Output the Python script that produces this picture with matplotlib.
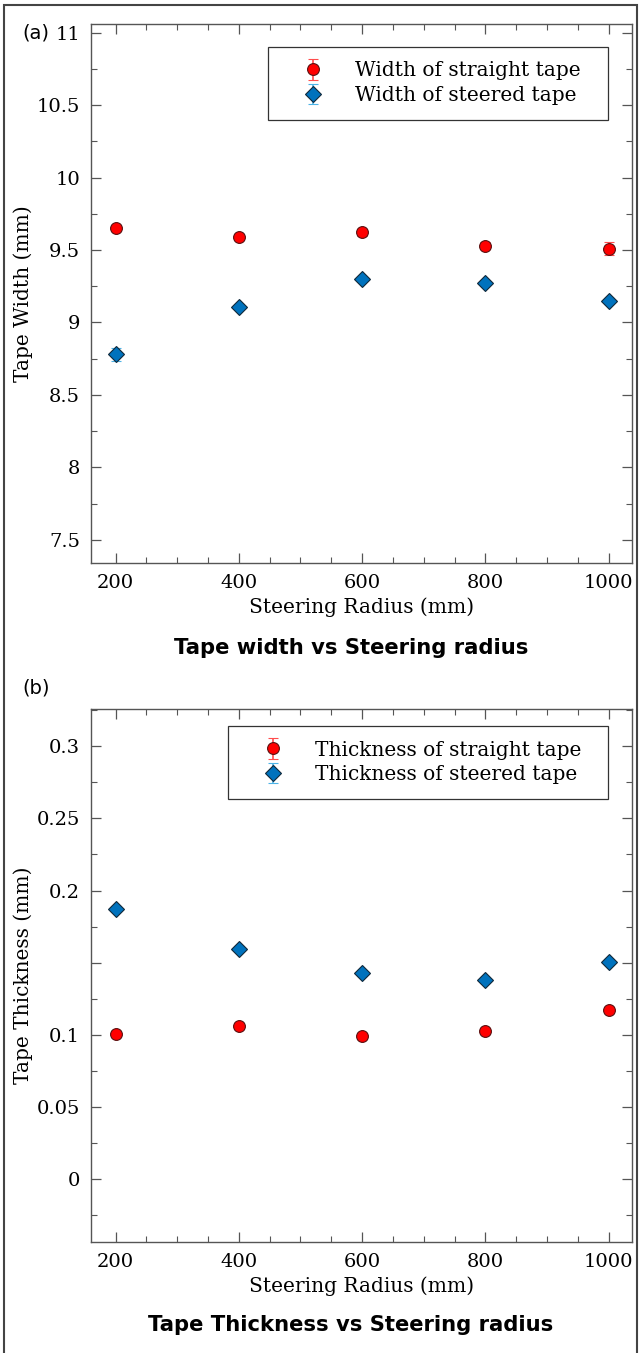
import matplotlib
matplotlib.use("Agg")
import matplotlib.pyplot as plt
from matplotlib.patches import Rectangle
from matplotlib.ticker import MultipleLocator

# Data
radius = [200, 400, 600, 800, 1000]

width_straight = [9.650, 9.588, 9.622, 9.530, 9.508]
width_straight_err = [0.010, 0.018, 0.022, 0.025, 0.045]
width_steered = [8.782, 9.110, 9.298, 9.273, 9.149]
width_steered_err = [0.045, 0.020, 0.010, 0.010, 0.020]

thick_straight = [0.1007, 0.1058, 0.0988, 0.1028, 0.1169]
thick_straight_err = [0.002, 0.002, 0.002, 0.002, 0.002]
thick_steered = [0.1875, 0.1597, 0.1428, 0.1377, 0.1505]
thick_steered_err = [0.002, 0.002, 0.002, 0.002, 0.002]

red = "#ff0000"
red_err = "#ff4d4d"
blue = "#0072bd"
blue_err = "#4db3e6"
spine = "#555555"

plt.rcParams["font.family"] = "DejaVu Serif"

W, H = 641, 1353
fig = plt.figure(figsize=(W / 100, H / 100), dpi=100)


def axes_px(left, right, top, bottom):
    return fig.add_axes([left / W, 1 - bottom / H, (right - left) / W, (bottom - top) / H])


ax1 = axes_px(91, 632, 24, 563)
ax2 = axes_px(91, 632, 709, 1242)


def style(ax, ymin, ymax, ymajor, yminor):
    ax.set_xlim(160, 1038)
    ax.set_ylim(ymin, ymax)
    ax.xaxis.set_major_locator(MultipleLocator(200))
    ax.xaxis.set_minor_locator(MultipleLocator(50))
    ax.yaxis.set_major_locator(MultipleLocator(ymajor))
    ax.yaxis.set_minor_locator(MultipleLocator(yminor))
    ax.tick_params(which="both", direction="in", top=True, right=True,
                   color=spine, labelsize=14, pad=8)
    ax.tick_params(which="major", length=7, width=0.9)
    ax.tick_params(which="minor", length=4, width=0.8)
    for s in ax.spines.values():
        s.set_color(spine)
        s.set_linewidth(1.0)
    ax.set_xlabel("Steering Radius (mm)", fontsize=14.5, labelpad=4)
    ax.yaxis.set_label_coords(-0.108, 0.5)


def draw(ax, y1, e1, y2, e2, lab1, lab2):
    ax.errorbar(radius, y1, yerr=e1, fmt="o", color=red, ecolor=red_err,
                markerfacecolor=red, markeredgecolor="#5a1010", markeredgewidth=0.8,
                markersize=8.5, capsize=3.5, elinewidth=1.2, capthick=1.2, label=lab1)
    ax.errorbar(radius, y2, yerr=e2, fmt="D", color=blue, ecolor=blue_err,
                markerfacecolor=blue, markeredgecolor="#10283a", markeredgewidth=0.8,
                markersize=8, capsize=3.5, elinewidth=1.2, capthick=1.2, label=lab2)


draw(ax1, width_straight, width_straight_err, width_steered, width_steered_err,
     "Width of straight tape", "Width of steered tape")
style(ax1, 7.34, 11.06, 0.5, 0.25)
ax1.set_yticks([7.5, 8, 8.5, 9, 9.5, 10, 10.5, 11])
ax1.set_yticklabels(["7.5", "8", "8.5", "9", "9.5", "10", "10.5", "11"])
ax1.set_ylabel("Tape Width (mm)", fontsize=14.5)

draw(ax2, thick_straight, thick_straight_err, thick_steered, thick_steered_err,
     "Thickness of straight tape", "Thickness of steered tape")
style(ax2, -0.044, 0.326, 0.05, 0.025)
ax2.set_yticks([0, 0.05, 0.1, 0.15, 0.2, 0.25, 0.3])
ax2.set_yticklabels(["0", "0.05", "0.1", "", "0.2", "0.25", "0.3"])
ax2.set_ylabel("Tape Thickness (mm)", fontsize=14.5)


def legend(ax, x0, x1, y0, y1):
    leg = ax.legend(loc="upper left", bbox_to_anchor=(x0, y1, x1 - x0, y0 - y1),
                    mode="expand", fontsize=14.5, frameon=True, fancybox=False,
                    framealpha=1, edgecolor="#333333", borderpad=0.72,
                    handlelength=3.0, handletextpad=0.6, labelspacing=0.28,
                    borderaxespad=0)
    leg.get_frame().set_linewidth(0.9)


legend(ax1, (268 - 91) / 541, (608 - 91) / 541, (563 - 47) / 539, (563 - 119) / 539)
legend(ax2, (228 - 91) / 541, (608 - 91) / 541, (1242 - 726) / 533, (1242 - 797) / 533)

# panel titles and letters
fig.text(351 / W, 1 - 648 / H, "Tape width vs Steering radius", ha="center", va="center",
         family="DejaVu Sans", weight="bold", fontsize=15.2)
fig.text(351 / W, 1 - 1325 / H, "Tape Thickness vs Steering radius", ha="center", va="center",
         family="DejaVu Sans", weight="bold", fontsize=15.2)
fig.text(22 / W, 1 - 33 / H, "(a)", ha="left", va="center", family="DejaVu Sans", fontsize=14)
fig.text(22 / W, 1 - 688 / H, "(b)", ha="left", va="center", family="DejaVu Sans", fontsize=14)

# outer frame
fig.patches.append(Rectangle((4 / W, -0.01), (637 - 4) / W, 1 - 5 / H + 0.01,
                             transform=fig.transFigure, fill=False,
                             edgecolor="#444444", linewidth=1.5))

fig.savefig("out.png", dpi=100)
